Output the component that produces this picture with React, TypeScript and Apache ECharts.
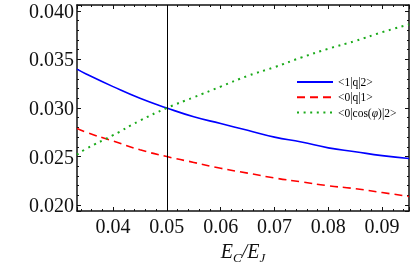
import React, { useEffect, useRef } from "react";
import * as echarts from "echarts";

const xValues = [0.0333, 0.035, 0.04, 0.045, 0.05, 0.055, 0.06, 0.065, 0.07, 0.075, 0.08, 0.085, 0.09, 0.095];
const q12 = [0.034, 0.0335, 0.0322, 0.031, 0.03, 0.0291, 0.0284, 0.0277, 0.027, 0.0265, 0.0259, 0.0255, 0.0251, 0.0248];
const q01 = [0.0279, 0.0275, 0.0266, 0.0257, 0.025, 0.0244, 0.0238, 0.0233, 0.0228, 0.0224, 0.022, 0.0217, 0.0213, 0.0209];
const cos02 = [0.0252, 0.0258, 0.0272, 0.0287, 0.03, 0.0311, 0.0322, 0.0333, 0.0342, 0.0352, 0.0361, 0.0369, 0.0378, 0.0386];
const seriesNames = ["<1|q|2>", "<0|q|1>", "<0|cos(φ)|2>"];
const markX = 0.05;

const serif = "'Liberation Serif', 'DejaVu Serif', serif";

export default function App() {
  const ref = useRef<HTMLDivElement>(null);
  useEffect(() => {
    if (!ref.current) return;
    const chart = echarts.init(ref.current, undefined, { renderer: "svg" });
    const pts = (ys: number[]) => xValues.map((x, i) => [x, ys[i]]);
    const frameLine = { show: true, lineStyle: { color: "#111", width: 1.5 } };
    const tick = { show: true, inside: true, length: 4, lineStyle: { color: "#111", width: 1 } };
    const minor = { show: true, splitNumber: 5, length: 2, lineStyle: { color: "#111", width: 1 } };
    chart.setOption({
      animation: false,
      grid: { left: 77, right: 2, top: 5, bottom: 54, outerBoundsMode: "none", containLabel: false },
      legend: {
        orient: "vertical",
        left: 296,
        top: 76,
        padding: 0,
        itemWidth: 36,
        itemHeight: 14,
        itemGap: 3.3,
        itemStyle: { color: "rgba(0,0,0,0)", borderColor: "rgba(0,0,0,0)", borderWidth: 0, opacity: 0 },
        textStyle: { fontFamily: serif, fontSize: 11.5, color: "#000", rich: { i: { fontFamily: serif, fontSize: 11.5, fontStyle: "italic", color: "#000" } } },
        formatter: (n: string) => n.replace("φ", "{i|φ}"),
        data: seriesNames,
      },
      xAxis: [
        {
          type: "value",
          min: 0.0333,
          max: 0.095,
          axisLine: frameLine,
          axisTick: tick,
          minorTick: minor,
          splitLine: { show: false },
          axisLabel: {
            fontFamily: serif,
            fontSize: 20,
            color: "#111",
            margin: 5,
            showMinLabel: false,
            showMaxLabel: false,
            formatter: (v: number) => v.toFixed(2),
          },
          name: "{e|E}{s|C}{e|/E}{s|J}",
          nameLocation: "middle",
          nameGap: 26,
          nameTextStyle: {
            rich: {
              e: { fontFamily: serif, fontStyle: "italic", fontSize: 20, color: "#111", lineHeight: 26, verticalAlign: "middle" },
              s: { fontFamily: serif, fontStyle: "italic", fontSize: 13, color: "#111", lineHeight: 13, verticalAlign: "bottom" },
            },
          },
        },
        {
          type: "value",
          position: "top",
          min: 0.0333,
          max: 0.095,
          axisLine: frameLine,
          axisTick: tick,
          minorTick: minor,
          splitLine: { show: false },
          axisLabel: { show: false },
        },
      ],
      yAxis: [
        {
          type: "value",
          min: 0.0194,
          max: 0.0406,
          axisLine: frameLine,
          axisTick: tick,
          minorTick: minor,
          splitLine: { show: false },
          axisLabel: {
            fontFamily: serif,
            fontSize: 20,
            color: "#111",
            margin: 3,
            showMinLabel: false,
            showMaxLabel: false,
            formatter: (v: number) => v.toFixed(3),
          },
        },
        {
          type: "value",
          position: "right",
          min: 0.0194,
          max: 0.0406,
          axisLine: frameLine,
          axisTick: tick,
          minorTick: minor,
          splitLine: { show: false },
          axisLabel: { show: false },
        },
      ],
      series: [
        {
          name: seriesNames[0],
          type: "line",
          data: pts(q12),
          smooth: true,
          showSymbol: false,
          symbol: "none",
          lineStyle: { color: "#0000ff", width: 1.6 },
          itemStyle: { color: "#0000ff" },
          markLine: {
            silent: true,
            symbol: ["none", "none"],
            label: { show: false },
            lineStyle: { color: "#000", width: 1, type: "solid" },
            data: [{ xAxis: markX }],
          },
        },
        {
          name: seriesNames[1],
          type: "line",
          data: pts(q01),
          smooth: true,
          showSymbol: false,
          symbol: "none",
          lineStyle: { color: "#ff0000", width: 1.6, type: [8, 5] },
          itemStyle: { color: "#ff0000" },
        },
        {
          name: seriesNames[2],
          type: "line",
          data: pts(cos02),
          smooth: true,
          showSymbol: false,
          symbol: "none",
          lineStyle: { color: "#1aaa1a", width: 2, type: [2, 4.6] },
          itemStyle: { color: "#1aaa1a" },
        },
      ],
    });
    return () => chart.dispose();
  }, []);
  return <div ref={ref} style={{ position: "fixed", left: 0, top: 0, width: 411, height: 265 }} />;
}
